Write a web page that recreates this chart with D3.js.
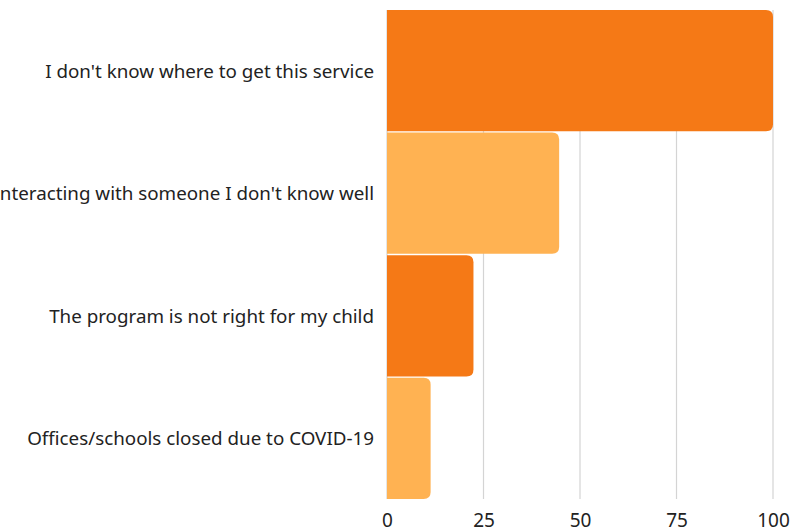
<!DOCTYPE html>
<html><head><meta charset="utf-8">
<script src="https://cdn.jsdelivr.net/npm/d3@7"></script>
<style>html,body{margin:0;padding:0;background:#fff;overflow:hidden}</style>
</head><body>
<svg id="c" width="804" height="529"></svg>
<script>
const categories = ["I don't know where to get this service","Interacting with someone I don't know well","The program is not right for my child","Offices/schools closed due to COVID-19"];
const values = [100, 44.6, 22.4, 11.3];
const barColors = ["#F57916", "#FFB252", "#F57916", "#FFB252"];
const tickValues = [0, 25, 50, 75, 100];

const svg = d3.select("#c");
const m = {left: 387, right: 31, top: 10, bottom: 30};
const W = 804, H = 529;
const x = d3.scaleLinear().domain([0, 100]).range([m.left, W - m.right]);
const y = d3.scaleBand().domain(categories).range([m.top, H - m.bottom]).paddingInner(0.012);

// gridlines
svg.append("g").selectAll("line").data(tickValues).join("line")
  .attr("x1", d => x(d)).attr("x2", d => x(d))
  .attr("y1", m.top).attr("y2", H - m.bottom)
  .attr("stroke", "#d4d4d4").attr("stroke-width", 1.2);

// bars with rounded right corners
const r = 7;
svg.append("g").selectAll("path").data(categories).join("path")
  .attr("d", (c, i) => {
    const x0 = x(0), x1 = x(values[i]), y0 = y(c), h = y.bandwidth();
    const rr = Math.min(r, (x1 - x0) / 2);
    return `M${x0},${y0}H${x1 - rr}Q${x1},${y0} ${x1},${y0 + rr}V${y0 + h - rr}Q${x1},${y0 + h} ${x1 - rr},${y0 + h}H${x0}Z`;
  })
  .attr("fill", (c, i) => barColors[i]);

// category labels
svg.append("g").selectAll("text").data(categories).join("text")
  .attr("x", m.left - 13).attr("y", c => y(c) + y.bandwidth() / 2)
  .attr("text-anchor", "end").attr("dominant-baseline", "central")
  .attr("font-family", "Noto Sans, sans-serif").attr("font-size", 18.8)
  .attr("fill", "#222").text(c => c);

// x axis labels
const ax = svg.append("g").attr("transform", `translate(0,${H - m.bottom})`)
  .call(d3.axisBottom(x).tickValues(tickValues).tickSize(0).tickPadding(10));
ax.select(".domain").remove();
ax.selectAll("text").attr("font-family", "Noto Sans, sans-serif").attr("font-size", 19).attr("fill", "#222").attr("dy", "0.95em");
</script>
</body></html>
